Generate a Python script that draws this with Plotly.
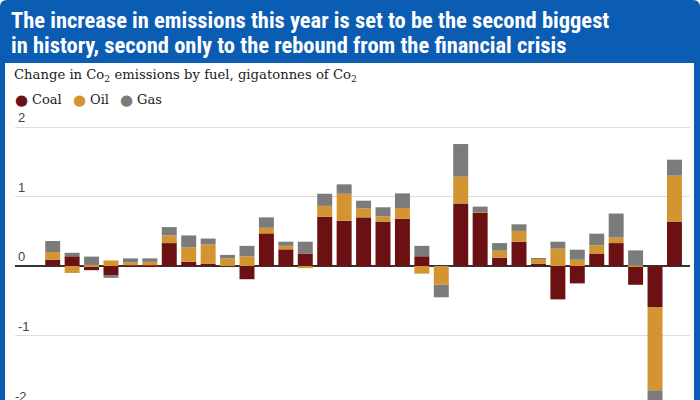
import plotly.graph_objects as go

# ---------------- data ----------------
years = list(range(1989, 2022))
coal = [0.09, 0.14, -0.06, -0.13, 0.01, 0.01, 0.33, 0.06, 0.03, 0.0,
        -0.19, 0.47, 0.24, 0.18, 0.71, 0.65, 0.70, 0.64, 0.68, 0.14,
        0.0, 0.90, 0.77, 0.12, 0.35, 0.035, -0.48, -0.25, 0.18, 0.33,
        -0.27, -0.59, 0.64]
oil = [0.11, -0.10, 0.015, 0.08, 0.04, 0.05, 0.11, 0.21, 0.28, 0.11,
       0.14, 0.08, 0.05, -0.03, 0.155, 0.39, 0.13, 0.075, 0.155, -0.11,
       -0.27, 0.385, 0.005, 0.10, 0.155, 0.075, 0.25, 0.09, 0.12, 0.08,
       0.005, -1.20, 0.66]
gas = [0.16, 0.05, 0.12, -0.04, 0.06, 0.05, 0.12, 0.17, 0.085, 0.05,
       0.15, 0.15, 0.06, 0.17, 0.175, 0.135, 0.11, 0.13, 0.21, 0.15,
       -0.18, 0.47, 0.08, 0.11, 0.095, 0.005, 0.10, 0.145, 0.165, 0.345,
       0.22, -0.22, 0.23]
series_names = ["Coal", "Oil", "Gas"]
y_tick_vals = [-1, 0, 1, 2]
y_tick_text = ["-1", "0", "1", "2"]

title_lines = ["The increase in emissions this year is set to be the second biggest",
               "in history, second only to the rebound from the financial crisis"]
subtitle = "Change in Co<sub>2</sub> emissions by fuel, gigatonnes of Co<sub>2</sub>"

# ---------------- style ----------------
colors = ["#6b1013", "#d39532", "#7b7b7b"]
BLUE = "#0b5cb3"
W, H = 700, 400
ML, MR, MT, MB = 15, 10, 110, 0
PW, PH = W - ML - MR, H - MT - MB


def xp(px):
    return (px - ML) / PW


def yp(py):
    return (H - MB - py) / PH


fig = go.Figure()
for name, vals, col in zip(series_names, [coal, oil, gas], colors):
    fig.add_trace(go.Bar(x=years, y=vals, name=name, marker_color=col,
                         marker_line_width=0, showlegend=False))

# frame: blue rounded border with white inner panel
r = 7
path = (f"M {xp(0)},{yp(420)} L {xp(0)},{yp(r)} Q {xp(0)},{yp(0)} {xp(r)},{yp(0)} "
        f"L {xp(W - r)},{yp(0)} Q {xp(W)},{yp(0)} {xp(W)},{yp(r)} L {xp(W)},{yp(420)} Z")
shapes = [
    dict(type="path", path=path, xref="paper", yref="paper", fillcolor=BLUE,
         line_width=0, layer="below"),
    dict(type="rect", xref="paper", yref="paper", x0=xp(5), x1=xp(694), y0=yp(420), y1=yp(63),
         fillcolor="white", line_width=0, layer="below"),
]

annotations = []
title_font = dict(family="Liberation Sans Narrow, Roboto Condensed, DejaVu Sans Condensed, sans-serif",
                  size=22.5, color="white", weight="bold")
for i, line in enumerate(title_lines):
    annotations.append(dict(text=line, xref="paper", yref="paper", x=xp(9), y=yp(20 + 25 * i),
                            xanchor="left", yanchor="middle", showarrow=False, font=title_font))
annotations.append(dict(text=subtitle, xref="paper", yref="paper", x=xp(12), y=yp(75),
                        xanchor="left", yanchor="middle", showarrow=False,
                        font=dict(family="DejaVu Serif, serif", size=13.2, color="#222")))
legend_marker_x = [21, 79, 126]
for name, col, mx in zip(series_names, colors, legend_marker_x):
    annotations.append(dict(text="●", xref="paper", yref="paper", x=xp(mx), y=yp(100),
                            xanchor="center", yanchor="middle", showarrow=False,
                            font=dict(family="DejaVu Sans", size=15, color=col)))
    annotations.append(dict(text=name, xref="paper", yref="paper", x=xp(mx + 9), y=yp(100),
                            xanchor="left", yanchor="middle", showarrow=False,
                            font=dict(family="DejaVu Serif, serif", size=13, color="#222")))
annotations.append(dict(text="-2", xref="paper", yref="paper", x=xp(13), y=yp(396),
                        xanchor="left", yanchor="middle", showarrow=False,
                        font=dict(family="Liberation Sans, Arial, sans-serif", size=13, color="#444")))

fig.update_layout(
    width=W, height=H,
    margin=dict(l=ML, r=MR, t=MT, b=MB, pad=0),
    paper_bgcolor="white", plot_bgcolor="white",
    barmode="relative", bargap=0.23,
    shapes=shapes, annotations=annotations,
    showlegend=False,
    xaxis=dict(range=[1987.06, 2021.8], showticklabels=False, showgrid=False,
               zeroline=False, showline=False, ticks=""),
    yaxis=dict(range=[-1.928, 2.245], tickvals=y_tick_vals, ticktext=y_tick_text,
               ticklabelposition="inside top", showgrid=True, gridcolor="#dedede",
               gridwidth=1, zeroline=True, zerolinecolor="#333", zerolinewidth=1.5,
               showline=False, ticks="",
               tickfont=dict(family="Liberation Sans, Arial, sans-serif", size=13, color="#444")),
)

fig.write_html("out.html",
               config={"displayModeBar": False},
               post_script="document.body.style.margin='0';document.body.style.overflow='hidden';")
